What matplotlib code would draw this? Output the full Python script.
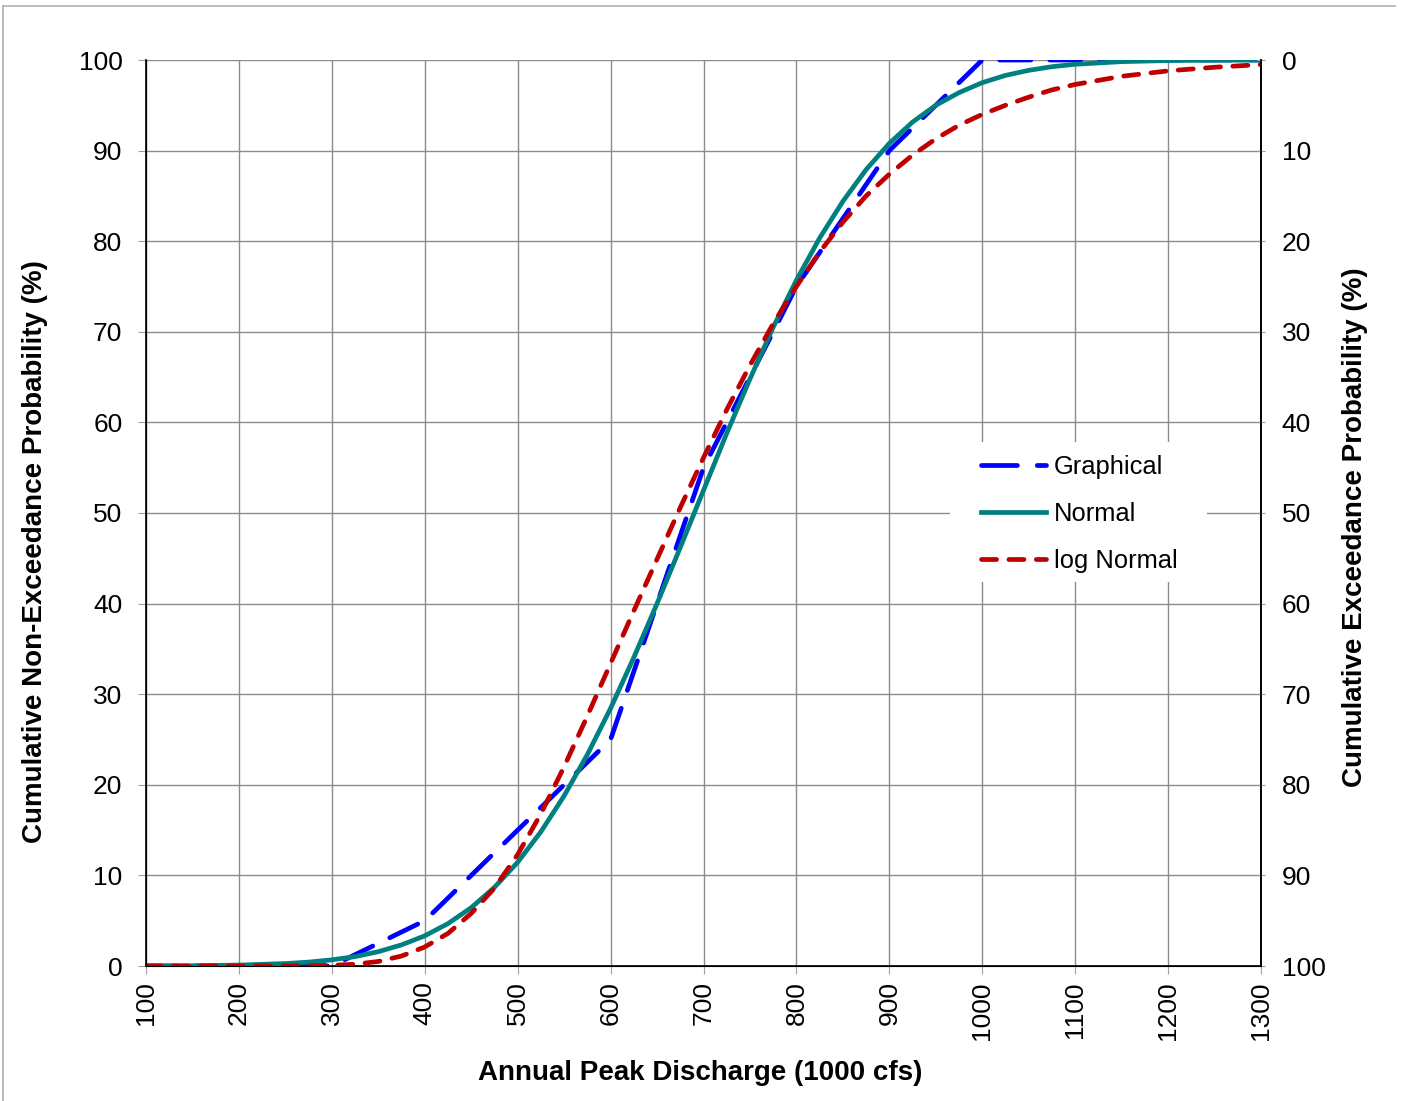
import matplotlib
matplotlib.use("Agg")
import matplotlib.pyplot as plt
from matplotlib.patches import Rectangle
from matplotlib.lines import Line2D

plt.rcParams["font.family"] = ["Liberation Sans", "DejaVu Sans"]

# Graphical (empirical) cumulative frequency
graph_q = [100, 200, 300, 400, 500, 600, 700, 800, 900, 1000, 1100, 1200, 1300]
graph_p = [0, 0, 0, 5, 15, 25, 55, 75, 90, 100, 100, 100, 100]

# fitted curves
fit_q = [100, 150, 200, 250, 275, 300, 325, 350, 375, 400, 425, 450, 475, 500,
         525, 550, 575, 600, 625, 650, 675, 700, 725, 750, 775, 800, 825, 850,
         875, 900, 925, 950, 975, 1000, 1025, 1050, 1075, 1100, 1150, 1200,
         1250, 1300]
normal_p = [0.01, 0.03, 0.10, 0.27, 0.43, 0.68, 1.04, 1.58, 2.33, 3.33, 4.68,
            6.44, 8.68, 11.45, 14.82, 18.78, 23.33, 28.44, 34.05, 40.0, 46.2,
            52.5, 58.8, 64.8, 70.5, 75.7, 80.35, 84.4, 87.9, 90.8, 93.15, 95.0,
            96.4, 97.5, 98.3, 98.86, 99.26, 99.53, 99.82, 99.94, 99.98, 99.99]
lognormal_p = [0.0, 0.0, 0.0, 0.01, 0.03, 0.07, 0.2, 0.5, 1.1, 2.1, 3.6, 5.8,
               8.6, 12.3, 16.8, 22.0, 27.6, 33.4, 39.2, 44.9, 50.6, 56.1, 61.4,
               66.3, 70.9, 75.0, 78.8, 82.1, 85.0, 87.4, 89.5, 91.3, 92.8, 94.0,
               95.0, 95.9, 96.7, 97.3, 98.2, 98.8, 99.2, 99.5]

x_ticks = list(range(100, 1301, 100))
y_ticks = list(range(0, 101, 10))

W, H = 1402, 1101
LW = 3.4
fig = plt.figure(figsize=(W / 100, H / 100), dpi=100)
ax = fig.add_axes([146 / W, 1 - 966 / H, (1261 - 146) / W, (966 - 60) / H])

ax.plot(graph_q, graph_p, color="#0000FF", lw=LW, dashes=(6.6, 4.0),
        dash_capstyle="round", label="Graphical", zorder=3)
ax.plot(fit_q, normal_p, color="#008080", lw=LW, label="Normal", zorder=4)
ax.plot(fit_q, lognormal_p, color="#C00000", lw=LW, dashes=(3.2, 2.6),
        dash_capstyle="round", label="log Normal", zorder=5)

ax.set_xlim(100, 1300)
ax.set_ylim(0, 100)
ax.set_xticks(x_ticks)
ax.set_yticks(y_ticks)
ax.grid(True, color="#8c8c8c", lw=1)
ax.set_axisbelow(True)
ax.spines["top"].set_visible(False)
for s in ["left", "bottom", "right"]:
    ax.spines[s].set_color("black")
    ax.spines[s].set_linewidth(1.2)
ax.tick_params(axis="y", labelsize=19, length=6, color="#a0a0a0", pad=11)
ax.tick_params(axis="x", labelsize=19, length=6, color="#a0a0a0", pad=5,
               labelrotation=90)

ax2 = ax.twinx()
ax2.set_ylim(100, 0)
ax2.set_yticks(y_ticks)
ax2.spines["top"].set_visible(False)
ax2.spines["right"].set_color("black")
ax2.spines["right"].set_linewidth(1.2)
ax2.tick_params(axis="y", labelsize=19, length=6, color="#a0a0a0", pad=12,
                direction="inout")

# legend with white background and no border
ax.add_patch(Rectangle((0.721, 0.4238), 0.2305, 0.1545, transform=ax.transAxes,
                       facecolor="white", edgecolor="none", zorder=2.5))
handles = [
    Line2D([], [], color="#0000FF", lw=LW, dashes=(7.6, 4.2), dash_capstyle="round"),
    Line2D([], [], color="#008080", lw=LW),
    Line2D([], [], color="#C00000", lw=LW, dashes=(3.2, 2.6), dash_capstyle="round"),
]
ax.legend(handles, ["Graphical", "Normal", "log Normal"], loc="center left",
          bbox_to_anchor=(0.749, 0.499), frameon=False, fontsize=18.4,
          handlelength=2.55, handletextpad=0.3, labelspacing=0.9,
          borderpad=0, borderaxespad=0)

fig.text(700 / W, 1 - 1073 / H, "Annual Peak Discharge (1000 cfs)",
         fontsize=20, fontweight="bold", ha="center", va="center")
fig.text(35 / W, 1 - 552 / H, "Cumulative Non-Exceedance Probability (%)",
         fontsize=20, fontweight="bold", ha="center", va="center", rotation=90)
fig.text(1355 / W, 1 - 527 / H, "Cumulative Exceedance Probability (%)",
         fontsize=20, fontweight="bold", ha="center", va="center", rotation=90)

# outer chart border (top and left edges visible)
fig.add_artist(Line2D([3 / W, 3 / W], [0, 1 - 6 / H], transform=fig.transFigure,
                      color="#b0b0b0", lw=1.2))
fig.add_artist(Line2D([3 / W, 1395 / W], [1 - 6 / H, 1 - 6 / H],
                      transform=fig.transFigure, color="#b0b0b0", lw=1.2))

fig.savefig("out.png", dpi=100, facecolor="white")
